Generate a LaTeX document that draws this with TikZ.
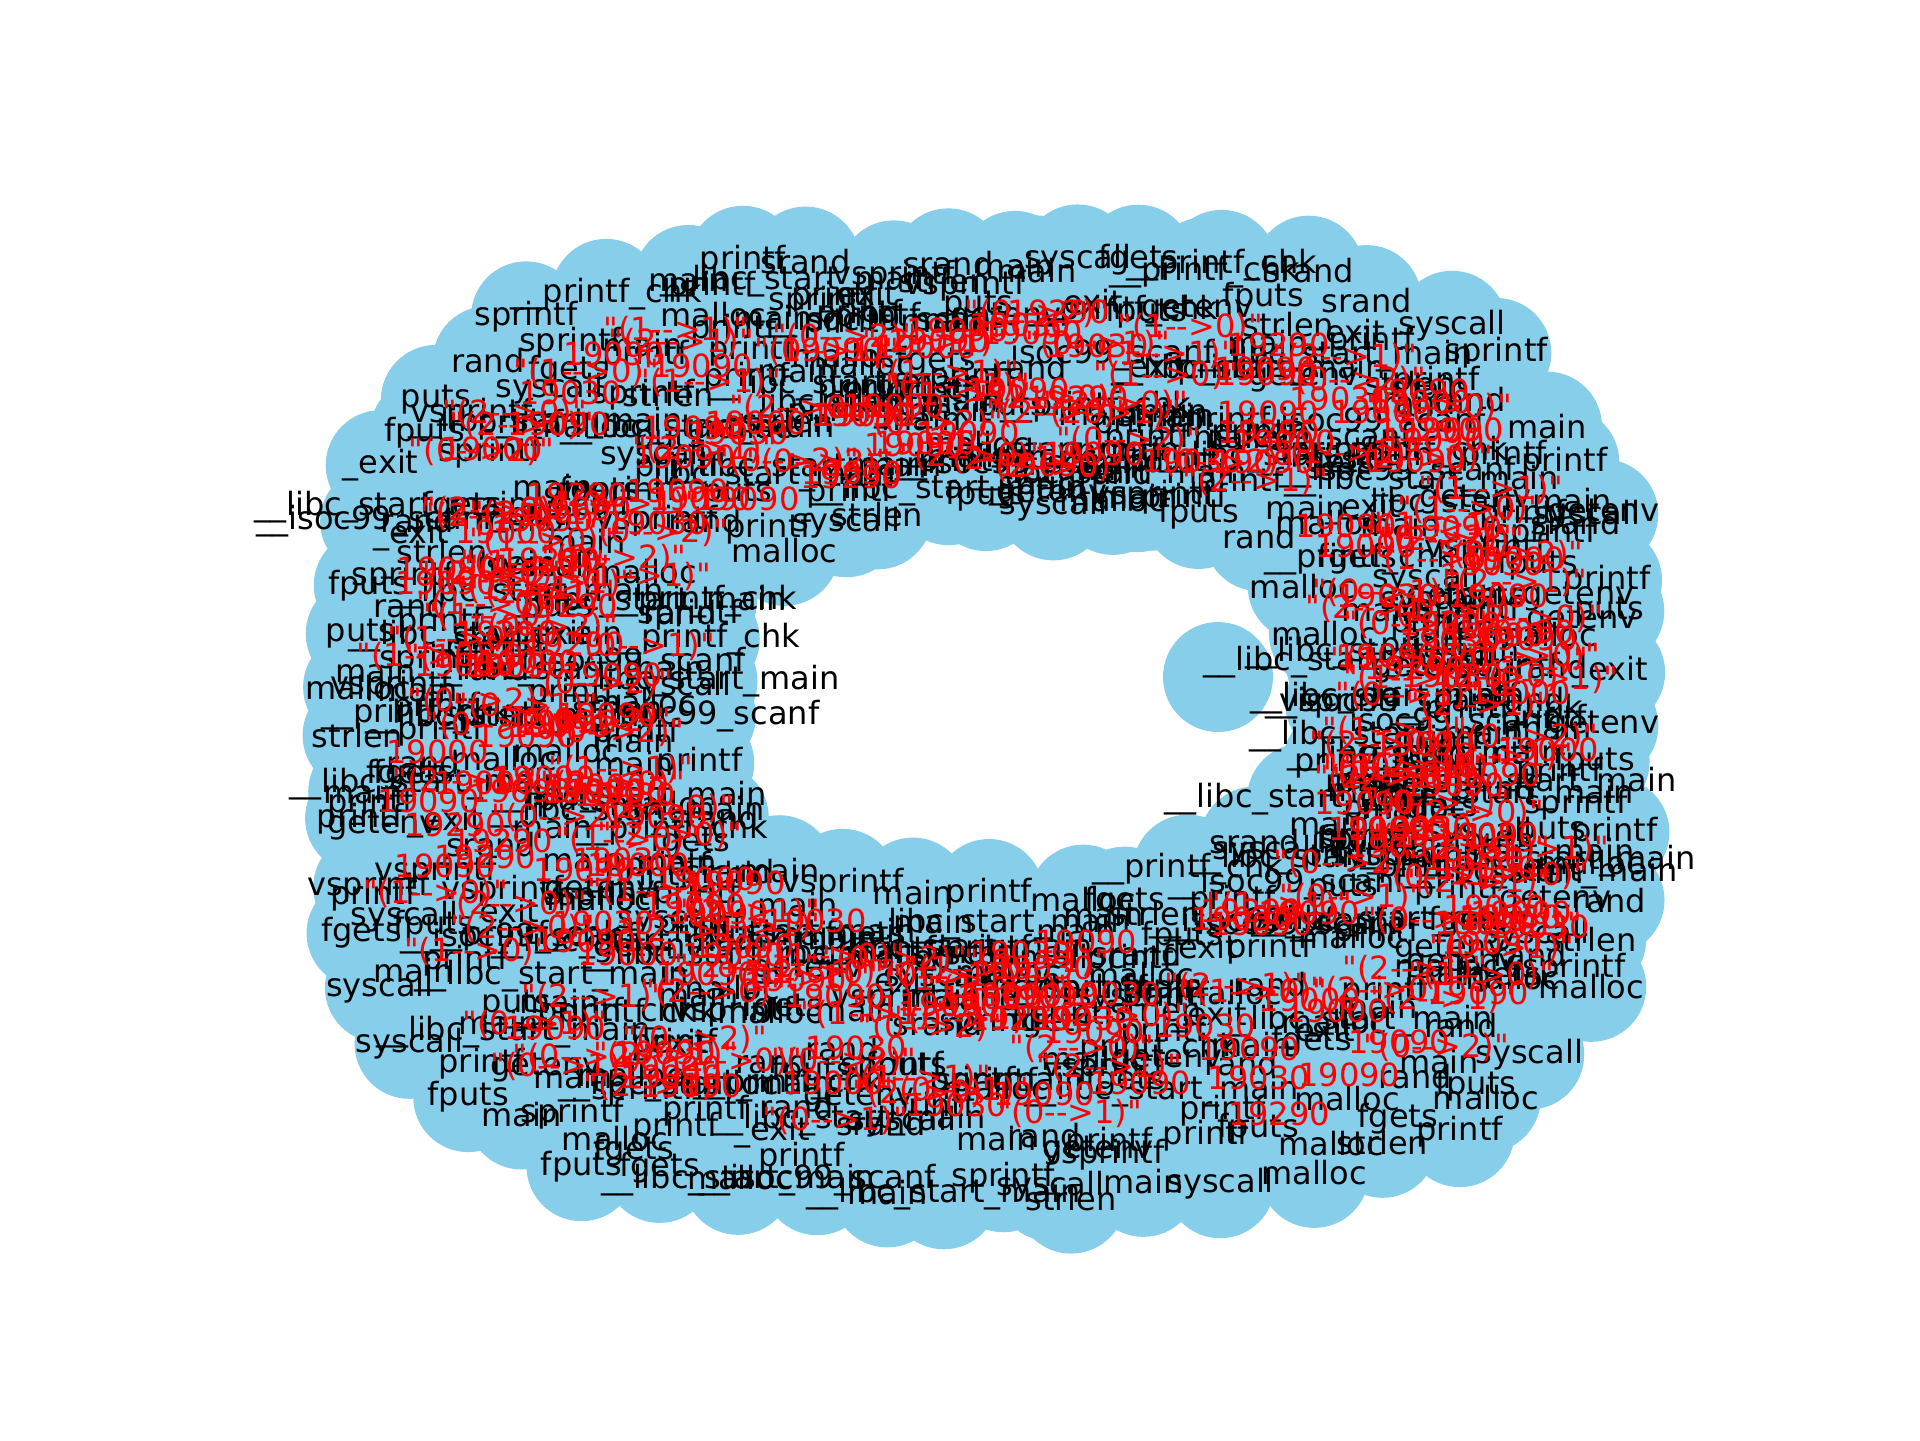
\documentclass[tikz,border=0pt]{standalone}
\usepackage{fontspec}
\setmainfont{DejaVu Sans}
\newfontfamily\plainfont{DejaVu Sans}[Ligatures=TeXOff]
\definecolor{nodeblue}{HTML}{87CEEB}
\tikzset{
  vertex/.style={circle, fill=nodeblue, draw=none, minimum size=27.5pt, inner sep=0pt},
  vlabel/.style={text=black, font=\plainfont\fontsize{8}{9}\selectfont, inner sep=0pt},
  elabel/.style={text=red, font=\plainfont\fontsize{8}{9}\selectfont, inner sep=0pt},
}
\newcommand\ringpoint[3]{% angle, t, name
  \pgfmathsetmacro\myc{cos(#1)}%
  \pgfmathsetmacro\mys{sin(#1)}%
  \pgfmathsetmacro\myq{sin(2*(#1))*sin(2*(#1))}%
  \pgfmathsetmacro\ox{985+618*\myc*(1+0.15*\myq)}%
  \pgfmathsetmacro\oy{728+460*\mys*(1+0.15*\myq)}%
  \pgfmathsetmacro\ix{1016+325*\myc*(1+0.07*\myq)}%
  \pgfmathsetmacro\iy{698+202*\mys*(1+0.07*\myq)}%
  \pgfmathsetmacro\px{\ix+#2*(\ox-\ix)}%
  \pgfmathsetmacro\py{\iy+#2*(\oy-\iy)}%
  \coordinate (#3) at (\px,\py);%
}
\begin{document}
\begin{tikzpicture}[x=0.25pt,y=-0.25pt]
\useasboundingbox (0,0) rectangle (1920,1440);
\pgfmathsetseed{12345}
\pgfmathdeclarerandomlist{fn}{{main}{main}{main}{printf}{printf}{printf}{printf}{\_\_libc\_start\_main}{\_\_libc\_start\_main}{malloc}{malloc}{puts}{strlen}{sprintf}{\_\_isoc99\_scanf}{getenv}{fgets}{rand}{srand}{\_exit}{syscall}{\_\_printf\_chk}{fputs}{vsprintf}}
\pgfmathdeclarerandomlist{el}{{"(1-{}->1)"}{"(0-{}->2)"}{"(1-{}->0)"}{"(2-{}->1)"}{"(0-{}->1)"}{"(2-{}->0)"}{19090}{19090}{19090}{19290}{19000}{19030}}
% layered positions
\foreach \L in {0,...,5}{
  \pgfmathtruncatemacro\N{28+6*\L}
  \foreach \k in {1,...,\N}{
    \pgfmathsetmacro\ang{(\k+0.6*rnd)/\N*360+17*\L}
    \pgfmathsetmacro\myt{\L/5+0.08*(rnd-0.5)}
    \ringpoint{\ang}{\myt}{p-\L-\k}
  }
}
% extra random positions
\foreach \j in {1,...,260}{
  \pgfmathsetmacro\ang{360*rnd}
  \pgfmathsetmacro\myt{rnd}
  \ringpoint{\ang}{\myt}{q-\j}
}
\coordinate (s-1) at (1218,677);
% circles
\foreach \L in {0,...,5}{
  \pgfmathtruncatemacro\N{28+6*\L}
  \foreach \k in {1,...,\N}{
    \node[vertex] (c-\L-\k) at (p-\L-\k) {};
  }
}
\foreach \j in {1,...,260}{
  \node[vertex] (d-\j) at (q-\j) {};
}
\node[vertex] (lone) at (s-1) {};
% node labels
\foreach \L in {0,...,5}{
  \pgfmathtruncatemacro\N{28+6*\L}
  \foreach \k in {1,...,\N}{
    \pgfmathrandomitem{\lab}{fn}
    \node[vlabel] (tc-\L-\k) at (p-\L-\k) {\lab};
  }
}
\foreach \j in {1,...,260}{
  \pgfmathrandomitem{\lab}{fn}
  \node[vlabel] (td-\j) at (q-\j) {\lab};
}
% edge labels
\foreach \j in {1,...,330}{
  \pgfmathsetmacro\ang{360*rnd}
  \pgfmathsetmacro\myt{0.12+0.7*rnd}
  \ringpoint{\ang}{\myt}{r-\j}
  \pgfmathrandomitem{\lab}{el}
  \node[elabel] (e-\j) at (r-\j) {\lab};
}
\end{tikzpicture}
\end{document}
